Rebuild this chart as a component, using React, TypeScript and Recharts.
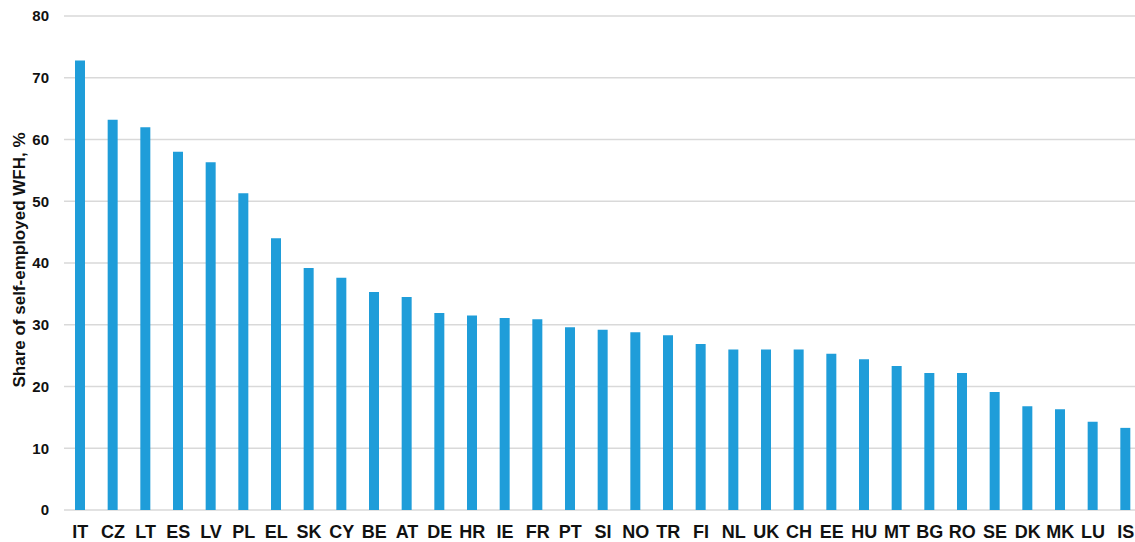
import React from "react";
import { BarChart, Bar, XAxis, YAxis, CartesianGrid } from "recharts";

const countries = ["IT","CZ","LT","ES","LV","PL","EL","SK","CY","BE","AT","DE","HR","IE","FR","PT","SI","NO","TR","FI","NL","UK","CH","EE","HU","MT","BG","RO","SE","DK","MK","LU","IS"];
const shares = [72.8,63.2,62.0,58.0,56.3,51.3,44.0,39.2,37.6,35.3,34.5,31.9,31.5,31.1,30.9,29.6,29.2,28.8,28.3,26.9,26.0,26.0,26.0,25.3,24.4,23.3,22.2,22.2,19.1,16.8,16.3,14.3,13.3];
const yTicks = [0,10,20,30,40,50,60,70,80];
const yTitle = "Share of self-employed WFH, %";

const data = countries.map((c, i) => ({ country: c, share: shares[i] }));

const FONT = "'Liberation Sans', Arial, sans-serif";

const YTitle = (props: any) => {
  const vb = props.viewBox || {};
  const cx = 19;
  const cy = (vb.y ?? 0) + (vb.height ?? 0) / 2 - 3;
  return (
    <text
      x={cx}
      y={cy}
      transform={`rotate(-90 ${cx} ${cy})`}
      textAnchor="middle"
      dominantBaseline="central"
      fontFamily={FONT}
      fontWeight="bold"
      fontSize={17}
      fill="#111"
    >
      {yTitle}
    </text>
  );
};

export default function App() {
  return (
    <div style={{ position: "absolute", left: 0, top: 0, width: 1135, height: 542, overflow: "hidden", background: "#fff" }}>
      <BarChart
        width={1150}
        height={542}
        data={data}
        margin={{ top: 16, right: 8, bottom: 0, left: 0 }}
      >
        <CartesianGrid vertical={false} stroke="#d9d9d9" strokeWidth={1.5} />
        <XAxis
          dataKey="country"
          axisLine={false}
          tickLine={false}
          height={32}
          interval={0}
          tickMargin={9}
          tick={{ fontFamily: FONT, fontWeight: "bold", fontSize: 18, fill: "#111" }}
        />
        <YAxis
          domain={[0, 80]}
          ticks={yTicks}
          axisLine={false}
          tickLine={false}
          width={64}
          tickMargin={9}
          tick={{ fontFamily: FONT, fontWeight: "bold", fontSize: 15, fill: "#111" }}
          label={<YTitle />}
        />
        <Bar dataKey="share" fill="#1f9dd9" barSize={10} isAnimationActive={false} />
      </BarChart>
    </div>
  );
}
